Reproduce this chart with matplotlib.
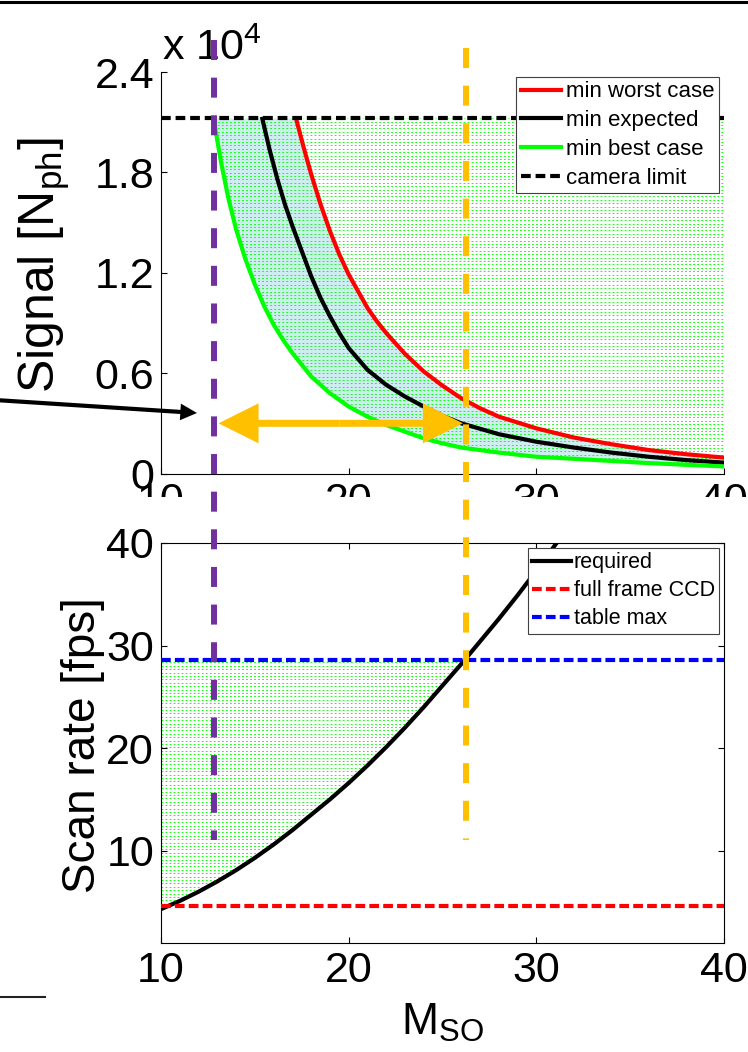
import numpy as np
import matplotlib
matplotlib.use("Agg")
import matplotlib.pyplot as plt
from matplotlib.lines import Line2D
from matplotlib.patches import FancyArrowPatch, Rectangle, ArrowStyle
from matplotlib.transforms import blended_transform_factory
from matplotlib.ticker import FuncFormatter

plt.rcParams["font.family"] = ["Liberation Sans", "DejaVu Sans"]
plt.rcParams["mathtext.fontset"] = "custom"
plt.rcParams["mathtext.rm"] = "Liberation Sans"
plt.rcParams["mathtext.it"] = "Liberation Sans:italic"
plt.rcParams["lines.scale_dashes"] = False

# top panel: minimum signal (photons) vs M_SO
m_worst = [17.2, 17.6, 18, 18.5, 19, 19.5, 20, 20.5, 21, 21.5, 22, 23, 24, 25, 26, 27, 28,
           30, 32, 34, 36, 38, 40]
sig_worst = [21200, 19500, 17900, 16100, 14500, 13100, 11900, 10900, 9900, 9100, 8400,
             7150, 6100, 5250, 4500, 3900, 3400, 2700, 2150, 1750, 1400, 1150, 950]
m_expected = [15.4, 15.8, 16.2, 16.6, 17, 17.5, 18, 18.5, 19, 19.5, 20, 21, 22, 23, 24, 25,
              26, 28, 30, 32, 34, 36, 38, 40]
sig_expected = [21200, 19300, 17600, 16100, 14800, 13300, 11800, 10500, 9400, 8400, 7500,
                6200, 5300, 4600, 4000, 3450, 3000, 2350, 1900, 1550, 1250, 1000, 800, 650]
m_best = [12.8, 13.2, 13.6, 14, 14.5, 15, 15.5, 16, 16.5, 17, 17.5, 18, 19, 20, 21, 22, 23,
          24, 25, 26, 28, 30, 32, 34, 36, 38, 40]
sig_best = [21200, 18600, 16400, 14600, 12800, 11300, 10000, 8900, 8000, 7200, 6500, 5800,
            4800, 4000, 3400, 2900, 2500, 2100, 1800, 1550, 1250, 1000, 880, 750, 620, 520, 420]
camera_limit = 21250

# bottom panel: required scan rate (fps) vs M_SO
m_req = [10, 11, 12, 13, 14, 15, 16, 17, 18, 19, 20, 21, 22, 23, 24, 25, 26, 27, 28, 29, 30, 31, 32]
fps_req = [4.3, 5.1, 6.0, 7.0, 8.1, 9.3, 10.6, 12.0, 13.5, 15.0, 16.6, 18.3, 20.1,
           22.0, 24.0, 26.1, 28.2, 30.4, 32.6, 34.9, 37.3, 39.8, 42.3]
full_frame_ccd = 4.65
table_max = 28.6

# usable M_SO window
m_lower = 12.8
m_upper = 26.25

W, H = 748, 1052
fig = plt.figure(figsize=(W / 100, H / 100), dpi=100)


def fx(px):
    return px / W


def fy(py):
    return 1 - py / H


def dotted_hatch(ax, xs, ys, step_px=3.4):
    # matlab-style hatchfill: dotted green horizontal lines clipped to polygon
    poly = ax.fill(xs, ys, facecolor="none", edgecolor="none", zorder=1.5)[0]
    y0, y1 = ax.get_ylim()
    x0, x1 = ax.get_xlim()
    step = (y1 - y0) * step_px / (ax.get_position().height * H)
    lc = ax.hlines(np.arange(y0 + step / 2, y1, step), x0, x1, colors="#00ff00",
                   linewidth=0.65, linestyles=[(0, (1.3, 1.6))], zorder=1.5)
    lc.set_clip_path(poly)


ax1 = fig.add_axes([fx(161), fy(473.5), fx(724) - fx(161), fy(72) - fy(473.5)])
ax2 = fig.add_axes([fx(161), fy(943), fx(724) - fx(161), fy(543) - fy(943)])
ax1.set_zorder(0)
ax2.set_zorder(2)

# ---- top panel ----
ax1.set_xlim(10, 40)
ax1.set_ylim(0, 24000)
ax1.set_autoscale_on(False)
ax1.fill(m_best + m_worst[::-1], sig_best + sig_worst[::-1],
         facecolor="#cdeeee", edgecolor="none", zorder=1)
dotted_hatch(ax1, m_best + [40], sig_best + [camera_limit])
ax1.plot(m_worst, sig_worst, color="#ff0000", lw=3, label="min worst case", zorder=3)
ax1.plot(m_expected, sig_expected, color="black", lw=3, label="min expected", zorder=3)
ax1.plot(m_best, sig_best, color="#00ff00", lw=3, label="min best case", zorder=3)
ax1.axhline(camera_limit, color="black", lw=3, dashes=(7, 3.5), label="camera limit", zorder=3)
ax1.set_xticks([10, 20, 30, 40])
ax1.set_yticks([0, 6000, 12000, 18000, 24000])
ax1.yaxis.set_major_formatter(FuncFormatter(lambda v, p: f"{v / 1e4:g}"))
ax1.spines[["top", "right"]].set_visible(False)
ax1.tick_params(direction="in", length=4, width=0.8, labelsize=31, pad=5)
ax1.tick_params(axis="x", pad=6)
ax1.set_ylabel("Signal [N$_{\\mathrm{ph}}$]", fontsize=36)
ax1.yaxis.set_label_coords(-0.158, 0.52)
leg1 = ax1.legend(loc="upper right", fontsize=16, fancybox=False, edgecolor="#404040",
                  framealpha=1, borderpad=0.2, labelspacing=0.35, handlelength=1.8,
                  handletextpad=0.25, borderaxespad=0.22)
leg1.get_frame().set_linewidth(0.8)
ax1.text(fx(162), fy(60), "x 10$^{4}$", fontsize=31, ha="left", va="baseline",
         transform=fig.transFigure)

# ---- bottom panel ----
ax2.set_xlim(10, 40)
ax2.set_ylim(1, 40)
ax2.set_autoscale_on(False)
req = np.array(fps_req)
m_cross = np.interp(table_max, req, m_req)
below = req <= table_max
dotted_hatch(ax2, list(np.array(m_req)[below]) + [m_cross, m_req[0]],
             list(req[below]) + [table_max, table_max])
ax2.plot(m_req, fps_req, color="black", lw=3, label="required", zorder=3)
ax2.axhline(full_frame_ccd, color="#ff0000", lw=3, dashes=(7, 3), label="full frame CCD", zorder=3)
ax2.axhline(table_max, color="#0000ff", lw=3, dashes=(7, 3), label="table max", zorder=3)
ax2.set_xticks([10, 20, 30, 40])
ax2.set_yticks([10, 20, 30, 40])
ax2.tick_params(direction="in", length=4, width=0.8, labelsize=31, pad=5,
                top=True, right=True)
ax2.tick_params(axis="x", pad=6)
ax2.set_ylabel("Scan rate [fps]", fontsize=33)
ax2.yaxis.set_label_coords(-0.10, 0.495)
ax2.set_xlabel("M$_{\\mathrm{SO}}$", fontsize=32)
ax2.xaxis.set_label_coords(0.5, -0.148)
leg2 = ax2.legend(loc="upper right", fontsize=15.5, fancybox=False, edgecolor="#404040",
                  framealpha=1, borderpad=0.2, labelspacing=0.33, handlelength=1.8,
                  handletextpad=0.15, borderaxespad=0.22)
leg2.get_frame().set_linewidth(0.8)

# white strip hiding the lower half of the top panel's x tick labels
fig.add_artist(Rectangle((fx(120), fy(543)), 1 - fx(120), fy(497) - fy(543),
                         transform=fig.transFigure, facecolor="white",
                         edgecolor="none", zorder=1))

# vertical dashed markers spanning both panels
span = blended_transform_factory(ax1.transData, fig.transFigure)
fig.add_artist(Line2D([m_lower, m_lower], [fy(40), fy(840)], transform=span,
                      color="#7030a0", lw=4.3, dashes=(14.4, 12.7), zorder=5))
fig.add_artist(Line2D([m_upper, m_upper], [fy(48), fy(840)], transform=span,
                      color="#ffc000", lw=4.3, dashes=(14.4, 12.7), zorder=5))

# orange double arrow between the two markers
m_mid = (m_lower + m_upper) / 2
for m_end, shrink in [(m_lower, 3.6), (m_upper, 2.2)]:
    fig.add_artist(FancyArrowPatch((m_mid, 3000), (m_end, 3000), transform=ax1.transData,
                                   arrowstyle=ArrowStyle("Simple", head_length=28.8,
                                                         head_width=28.8, tail_width=5),
                                   mutation_scale=1, shrinkA=0, shrinkB=shrink,
                                   color="#ffc000", lw=0, zorder=6))

# black pointer arrow from the left edge
fig.add_artist(FancyArrowPatch((fx(-5), fy(400)), (fx(197), fy(413)), transform=fig.transFigure,
                               arrowstyle=ArrowStyle("Simple", head_length=12,
                                                     head_width=12, tail_width=3),
                               mutation_scale=1, shrinkA=0, shrinkB=0,
                               color="black", lw=0, zorder=6))

# frame remnants
fig.add_artist(Line2D([0, 1], [fy(1.5), fy(1.5)], transform=fig.transFigure,
                      color="black", lw=2.2, zorder=6))
fig.add_artist(Line2D([0, fx(45)], [fy(997), fy(997)], transform=fig.transFigure,
                      color="#222222", lw=1.5, zorder=6))

fig.savefig("out.png", dpi=100)
